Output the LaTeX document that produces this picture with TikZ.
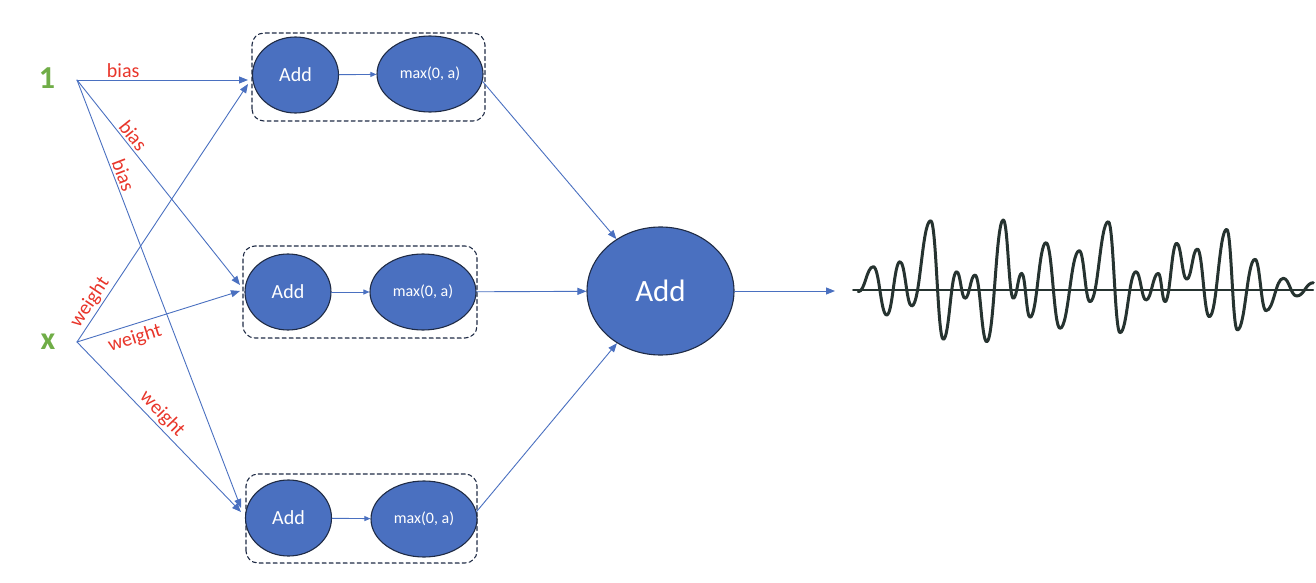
\documentclass[tikz,border=0pt]{standalone}
\usepackage{fontspec}
\setmainfont{Carlito}
\usepackage{xcolor}
\usetikzlibrary{arrows.meta}
\usetikzlibrary{positioning}
\usetikzlibrary{shapes.geometric}

\begin{document}
\begin{tikzpicture}[line cap=round,line join=round,x=1pt,y=1pt,
  cell/.style={ellipse,draw=navy,line width=1.1pt,fill=offblue,text=white,inner sep=0pt},
  addcell/.style={cell,minimum width=86,minimum height=76,font=\fontsize{20}{22}\selectfont},
  relucell/.style={cell,minimum width=106,minimum height=76,font=\fontsize{16}{18}\selectfont},
  grpbox/.style={draw=navy,line width=1.1pt,dash pattern=on 4pt off 3pt,rounded corners=12pt},
  wire/.style={draw=offblue,line width=0.9pt,-{Triangle[length=9pt,width=7pt]}},
  lbl/.style={text=offred,font=\fontsize{20}{22}\selectfont,inner sep=2pt},
  inlbl/.style={text=offgreen,font=\fontsize{32}{34}\selectfont\bfseries}]
\definecolor{offblue}{HTML}{4A70C0}
\definecolor{navy}{HTML}{1F2B45}
\definecolor{offred}{HTML}{E8352A}
\definecolor{offgreen}{HTML}{70AD47}
\definecolor{wavec}{HTML}{263330}
\useasboundingbox (0,0) rectangle (1316,582);
% inputs
\coordinate (one) at (77,502);
\coordinate (inx) at (77,240);
\node[inlbl] (lone) at (47,504) {1};
\node[inlbl] (lx) at (48,240) {x};
% hidden units
\draw[grpbox] (252,461) rectangle (485,549);
\draw[grpbox] (243,244) rectangle (477,336);
\draw[grpbox] (246,19) rectangle (477,108);
\node[addcell] (add1) at (295.5,507) {Add};
\node[relucell] (relu1) at (430,508) {max(0, a)};
\node[addcell] (add2) at (288,290) {Add};
\node[relucell] (relu2) at (423,290) {max(0, a)};
\node[addcell] (add3) at (288.5,64) {Add};
\node[relucell] (relu3) at (424,63) {max(0, a)};
\node[cell,minimum width=147,minimum height=128,font=\fontsize{31}{33}\selectfont] (sum) at (660.5,291) {Add};
% arrow ends
\coordinate (in1a) at (248,502);
\coordinate (in1b) at (248,498);
\coordinate (in2a) at (240,297);
\coordinate (in2b) at (240,291);
\coordinate (in3a) at (241,74);
\coordinate (in3b) at (241,70);
\coordinate (out) at (835,291);
% connections
\draw[wire] (one) -- node[lbl,above,pos=0.27] {bias} (in1a);
\draw[wire] (one) -- node[lbl,sloped,above,pos=0.3] {bias} (in2a);
\draw[wire] (one) -- node[lbl,sloped,above,pos=0.23] {bias} (in3a);
\draw[wire] (inx) -- node[lbl,sloped,above,pos=0.13] {weight} (in1b);
\draw[wire] (inx) -- node[lbl,sloped,below=3pt,pos=0.33] {weight} (in2b);
\draw[wire] (inx) -- node[lbl,sloped,above,pos=0.47] {weight} (in3b);
\draw[wire,-{Triangle[length=6pt,width=5pt]}] (add1) -- (relu1);
\draw[wire,-{Triangle[length=6pt,width=5pt]}] (add2) -- (relu2);
\draw[wire,-{Triangle[length=6pt,width=5pt]}] (add3) -- (relu3);
\draw[wire] (relu1.-8) -- (sum);
\draw[wire] (relu2) -- (sum);
\draw[wire] (relu3.8) -- (sum);
\draw[wire] (sum) -- (out);
% output signal
\draw[wavec,line width=2pt] (853,292) -- (1313,292);
\draw[wavec,line width=3pt] (858.3,290.3) \foreach \px/\py [remember=\px as \lx (initially 858.3)] in {873.3/315.3,886.7/267,900/320.3,911.7/276,930.7/361.3,943.3/242.7,956.7/310.3,965/283.7,975/307,986.7/240.3,1003.3/362,1013.3/283.7,1021.7/308.7,1030/264.7,1046/339.3,1060/253.7,1079.3/331.3,1090/280.3,1108.3/360.3,1120/249.3,1136/310.3,1146/282,1158.3/308.7,1165/280.3,1176.7/338.7,1186.7/302.7,1197.3/333,1209.3/265.3,1226.7/352.7,1237.3/252,1255/322.7,1266/271.3,1283.3/303.7,1296.7/286,1313.3/299.3} { .. controls +({0.45*(\px-\lx)},0) and +({-0.45*(\px-\lx)},0) .. (\px,\py) };
\end{tikzpicture}
\end{document}
